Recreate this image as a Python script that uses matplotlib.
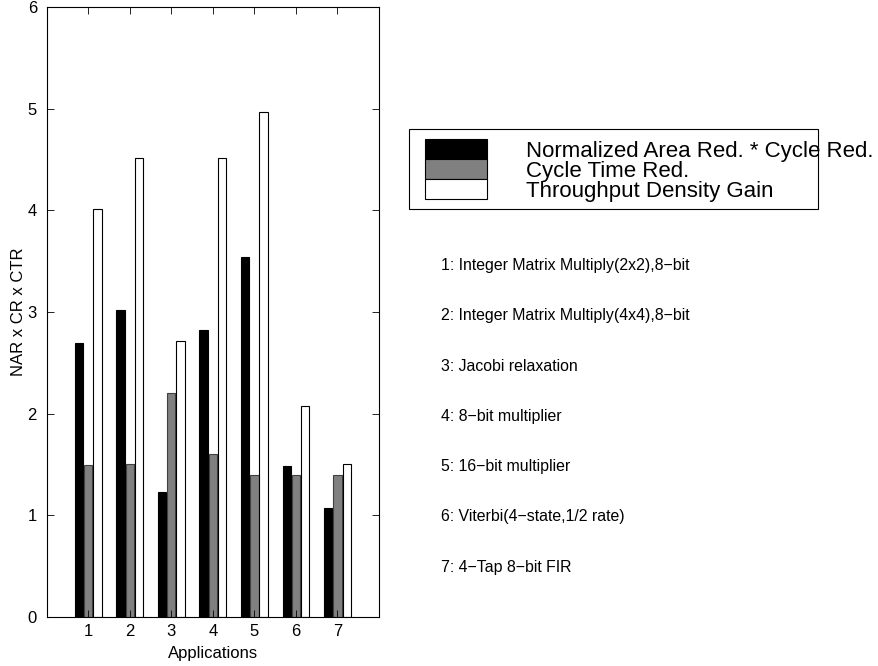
import matplotlib
matplotlib.use("Agg")
import matplotlib.pyplot as plt
import numpy as np

plt.rcParams['font.family'] = ['Liberation Sans', 'DejaVu Sans']

apps = [1, 2, 3, 4, 5, 6, 7]
nar_cr = [2.69, 3.02, 1.23, 2.82, 3.545, 1.48, 1.07]
cycle_time_red = [1.49, 1.50, 2.20, 1.60, 1.40, 1.40, 1.40]
throughput_gain = [4.01, 4.52, 2.71, 4.52, 4.965, 2.07, 1.505]
series_names = ["Normalized Area Red. * Cycle Red.", "Cycle Time Red.", "Throughput Density Gain"]
app_names = [
    "1: Integer Matrix Multiply(2x2),8\u2212bit",
    "2: Integer Matrix Multiply(4x4),8\u2212bit",
    "3: Jacobi relaxation",
    "4: 8\u2212bit multiplier",
    "5: 16\u2212bit multiplier",
    "6: Viterbi(4\u2212state,1/2 rate)",
    "7: 4\u2212Tap 8\u2212bit FIR",
]

fig = plt.figure(figsize=(8.79, 6.66), dpi=100)
W, H = 879, 666
ax = fig.add_axes([46.7 / W, 1 - 616.7 / H, (379 - 46.7) / W, (616.7 - 7.3) / H])

x = np.array(apps, dtype=float)
w = 0.2
off = 0.222
ax.bar(x - off, nar_cr, w, color='black', edgecolor='black', linewidth=0.8)
ax.bar(x, cycle_time_red, w, color='#808080', edgecolor='#404040', linewidth=0.8)
ax.bar(x + off, throughput_gain, w, color='white', edgecolor='black', linewidth=0.8)

ax.set_xlim(0, 8)
ax.set_ylim(0, 6)
ax.set_xticks(apps)
ax.set_yticks([0, 1, 2, 3, 4, 5, 6])
ax.tick_params(direction='in', top=True, right=True, length=5, labelsize=12, width=0.6)
ax.tick_params(axis='x', pad=5)
ax.tick_params(axis='y', pad=7)
for s in ax.spines.values():
    s.set_linewidth(0.8)
ax.set_xlabel("Applications", fontsize=12, labelpad=5)
ax.set_ylabel("NAR x CR x CTR", fontsize=12, labelpad=1)

# legend box (MATLAB style, text overflowing)
lx0, lx1, ly0, ly1 = 409 / W, 817.7 / W, 1 - 209.3 / H, 1 - 129.3 / H
fig.patches.append(plt.Rectangle((lx0, ly0), lx1 - lx0, ly1 - ly0, transform=fig.transFigure,
                                 facecolor='white', edgecolor='black', linewidth=0.8))
colors = ['black', '#808080', 'white']
ph = 20 / H
ptop = 1 - 139 / H
for i, (name, c) in enumerate(zip(series_names, colors)):
    y0 = ptop - (i + 1) * ph
    fig.patches.append(plt.Rectangle((425 / W, y0), (486.7 - 425) / W, ph, transform=fig.transFigure,
                                     facecolor=c, edgecolor='black', linewidth=0.8))
    fig.text(526 / W, y0 + ph / 2 - 2.5 / H, name, fontsize=16, va='center', ha='left')

# application descriptions
for i, t in enumerate(app_names):
    fig.text(441 / W, 1 - (265.5 + i * 50.3) / H, t, fontsize=11.4, va='center', ha='left')

fig.savefig("out.png", dpi=100)
